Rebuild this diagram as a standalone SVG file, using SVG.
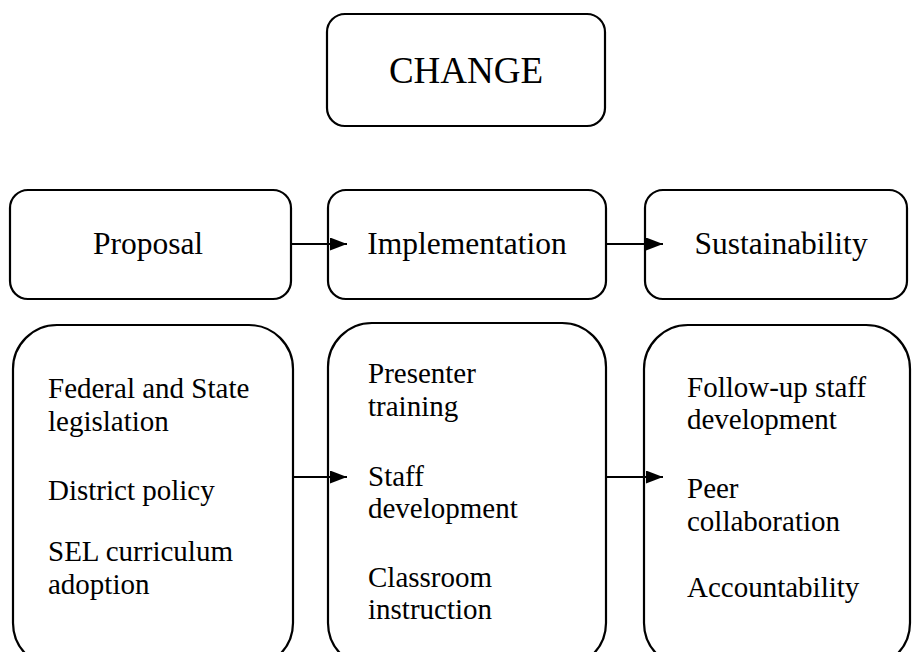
<svg xmlns="http://www.w3.org/2000/svg" width="913" height="652" viewBox="0 0 913 652">
<defs>
<style>
.box{fill:#fff;stroke:#000;stroke-width:2.2}
.t{font-family:"Liberation Serif","Times New Roman",serif;fill:#000}
.h{font-size:31.5px;text-anchor:middle}
.b{font-size:29px}
.c{stroke:#000;stroke-width:2.2;fill:none}
</style>
<marker id="ah" viewBox="0 0 10 10" refX="10" refY="5" markerWidth="17" markerHeight="13" markerUnits="userSpaceOnUse" orient="auto" preserveAspectRatio="none">
<path d="M0,0 L10,5 L0,10 Z" fill="#000"/>
</marker>
</defs>
<rect width="913" height="652" fill="#fff"/>
<g id="change">
<rect class="box" x="327" y="14" width="278" height="112" rx="18"/>
<text class="t" x="466" y="83" font-size="37" text-anchor="middle">CHANGE</text>
</g>
<g id="proposal">
<rect class="box" x="10" y="190" width="281" height="109" rx="18"/>
<text class="t h" x="148" y="254">Proposal</text>
</g>
<g id="implementation">
<rect class="box" x="328" y="190" width="278" height="109" rx="18"/>
<text class="t h" x="467" y="254">Implementation</text>
</g>
<g id="sustainability">
<rect class="box" x="645" y="190" width="262" height="109" rx="18"/>
<text class="t h" x="781" y="254">Sustainability</text>
</g>
<g id="proposal-details">
<rect class="box" x="13" y="325" width="280" height="342" rx="44"/>
<text class="t b" x="48"><tspan x="48" y="398">Federal and State</tspan><tspan x="48" y="431">legislation</tspan><tspan x="48" y="500">District policy</tspan><tspan x="48" y="561">SEL curriculum</tspan><tspan x="48" y="594">adoption</tspan></text>
</g>
<g id="implementation-details">
<rect class="box" x="328" y="323" width="278" height="344" rx="44"/>
<text class="t b" x="368"><tspan x="368" y="383">Presenter</tspan><tspan x="368" y="416">training</tspan><tspan x="368" y="486">Staff</tspan><tspan x="368" y="518">development</tspan><tspan x="368" y="587">Classroom</tspan><tspan x="368" y="619">instruction</tspan></text>
</g>
<g id="sustainability-details">
<rect class="box" x="644" y="325" width="266" height="342" rx="44"/>
<text class="t b" x="687"><tspan x="687" y="397">Follow-up staff</tspan><tspan x="687" y="429">development</tspan><tspan x="687" y="498">Peer</tspan><tspan x="687" y="531">collaboration</tspan><tspan x="687" y="597">Accountability</tspan></text>
</g>
<g id="connectors">
<line class="c" x1="291" y1="244" x2="347" y2="244" marker-end="url(#ah)"/>
<line class="c" x1="606" y1="244" x2="663" y2="244" marker-end="url(#ah)"/>
<line class="c" x1="293" y1="477" x2="347" y2="477" marker-end="url(#ah)"/>
<line class="c" x1="606" y1="477" x2="663" y2="477" marker-end="url(#ah)"/>
</g>
</svg>
